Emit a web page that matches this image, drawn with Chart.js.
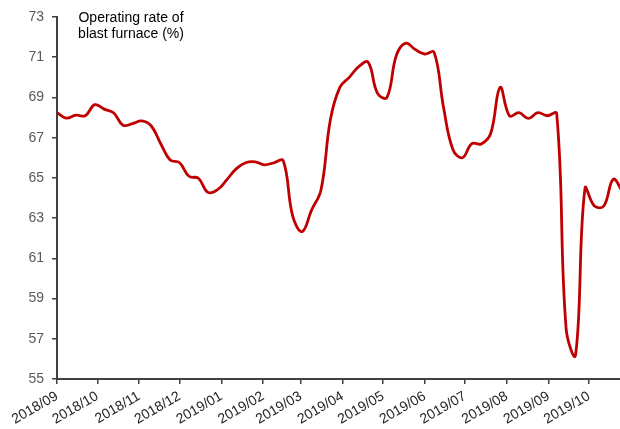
<!DOCTYPE html>
<html>
<head>
<meta charset="utf-8">
<script src="https://cdn.jsdelivr.net/npm/chart.js@4/dist/chart.umd.min.js"></script>
<style>
  html, body { margin: 0; padding: 0; background: #fff; }
  #wrap { width: 620px; height: 429px; }
</style>
</head>
<body>
<div id="wrap"><canvas id="myChart" width="620" height="429"></canvas></div>
<script>
// weekly blast furnace operating rate (%), first week = 2018/09/01
const rateValues = [
    68.24, 67.97, 68.12, 68.09, 68.64, 68.42, 68.24, 67.62, 67.70, 67.83,
    67.58, 66.70, 65.89, 65.75, 65.08, 64.98, 64.28, 64.40, 64.90, 65.45,
    65.75, 65.80, 65.65, 65.75, 65.85, 63.10, 62.33, 63.40, 64.40, 67.90,
    69.50, 70.00, 70.53, 70.75, 69.20, 69.00, 71.10, 71.70, 71.38, 71.16,
    71.24, 68.50, 66.40, 66.00, 66.70, 66.69, 67.21, 69.50, 68.08, 68.24,
    67.96, 68.24, 68.09, 68.20, 57.50, 56.19, 64.48, 63.60, 63.60, 64.93,
    64.30
];
// month ticks: day offset from 2018/09/01 and label
const monthDays = [0, 30, 61, 91, 122, 153, 181, 212, 242, 273, 303, 334, 365, 395];
const monthLabels = ['2018/09', '2018/10', '2018/11', '2018/12', '2019/01', '2019/02', '2019/03',
                     '2019/04', '2019/05', '2019/06', '2019/07', '2019/08', '2019/09', '2019/10'];
const yTicks = [55, 57, 59, 61, 63, 65, 67, 69, 71, 73];
const seriesName = ['Operating rate of', 'blast furnace (%)'];

const points = rateValues.map((v, i) => ({ x: i * 7, y: v }));

// draws the series name inside the plot, top left
const nameLabel = {
    id: 'nameLabel',
    afterDraw(chart) {
        const ctx = chart.ctx;
        ctx.save();
        ctx.font = '14px "Liberation Sans", Arial, sans-serif';
        ctx.fillStyle = '#000';
        ctx.textAlign = 'center';
        ctx.textBaseline = 'middle';
        ctx.fillText(seriesName[0], 131, 18);
        ctx.fillText(seriesName[1], 131, 34);
        ctx.restore();
    }
};

const ctx = document.getElementById('myChart').getContext('2d');
new Chart(ctx, {
    type: 'line',
    data: {
        datasets: [{
            label: seriesName.join(' '),
            data: points,
            borderColor: '#c00000',
            borderWidth: 2.8,
            pointRadius: 0,
            tension: 0.4,
            fill: false
        }]
    },
    options: {
        responsive: false,
        animation: false,
        layout: { padding: { top: 17, right: 0, left: 0, bottom: 0 } },
        plugins: {
            legend: { display: false },
            tooltip: { enabled: false }
        },
        scales: {
            x: {
                type: 'linear',
                min: 0,
                max: 418,
                afterBuildTicks: function(scale) {
                    scale.ticks = monthDays.map(d => ({ value: d }));
                },
                afterFit: function(scale) { scale.height = 50; },
                grid: { drawOnChartArea: false, drawTicks: true, tickLength: 5, color: '#404040', lineWidth: 1.5 },
                border: { display: true, color: '#404040', width: 2 },
                ticks: {
                    autoSkip: false,
                    maxRotation: 30,
                    minRotation: 30,
                    padding: 4,
                    color: '#262626',
                    font: { size: 14, family: '"Liberation Sans", Arial, sans-serif' },
                    callback: function(value) {
                        const i = monthDays.indexOf(value);
                        return i >= 0 ? monthLabels[i] : '';
                    }
                }
            },
            y: {
                min: 55,
                max: 73,
                afterBuildTicks: function(scale) {
                    scale.ticks = yTicks.map(v => ({ value: v }));
                },
                afterFit: function(scale) { scale.width = 57; },
                grid: { drawOnChartArea: false, drawTicks: true, tickLength: 5, color: '#404040', lineWidth: 1.5 },
                border: { display: true, color: '#404040', width: 2 },
                ticks: {
                    padding: 8,
                    color: '#595959',
                    font: { size: 14, family: '"Liberation Sans", Arial, sans-serif' }
                }
            }
        }
    },
    plugins: [nameLabel]
});
</script>
</body>
</html>
